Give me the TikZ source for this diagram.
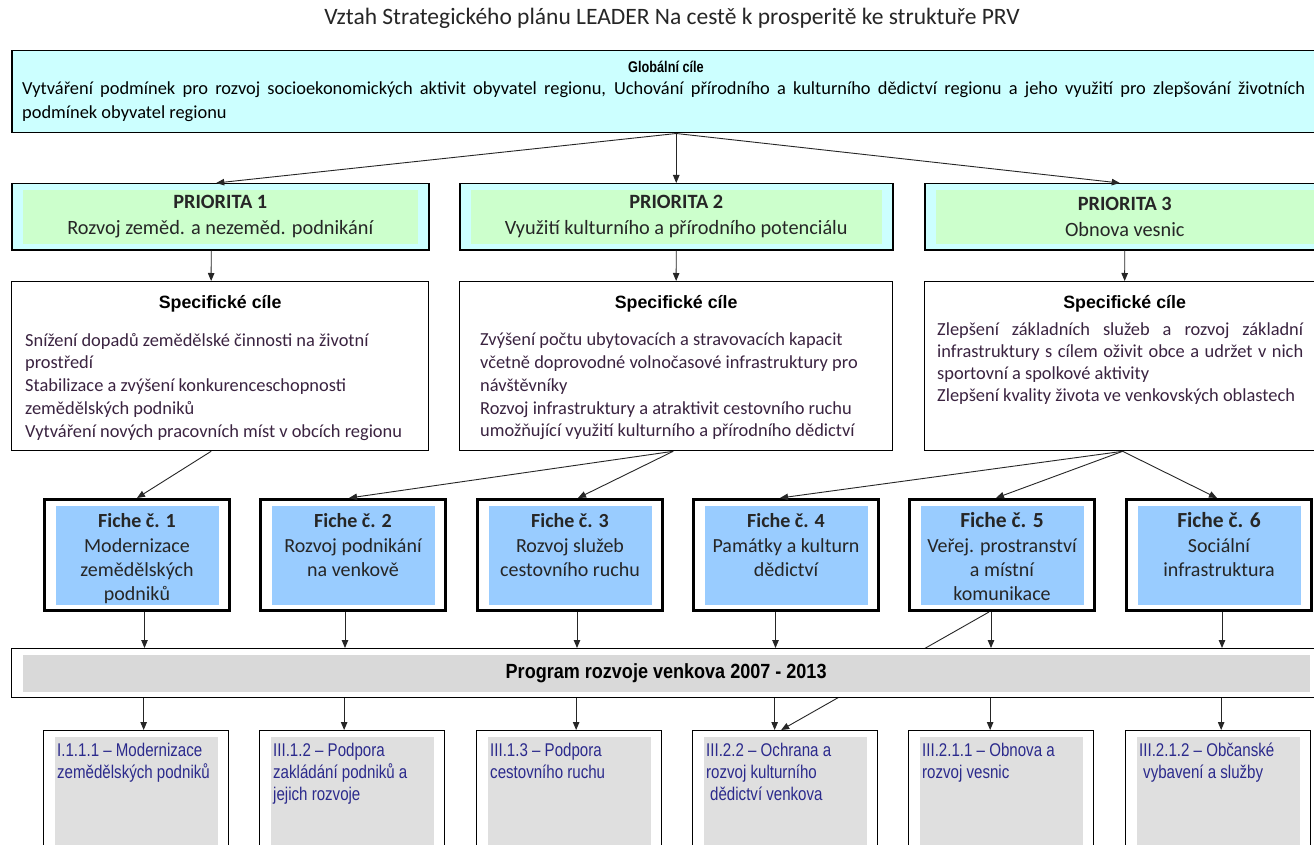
\documentclass[tikz,border=0pt]{standalone}
\usepackage{fontspec}
\setmainfont{Carlito}
\newfontfamily\arialfont{Liberation Sans}
\newfontfamily\narrowfont[FakeStretch=0.82]{Liberation Sans}
\newfontfamily\prgfont[FakeStretch=0.88]{Liberation Sans}
\usetikzlibrary{arrows.meta, positioning}

\definecolor{globcyan}{HTML}{CCFFFF}
\definecolor{priogreen}{HTML}{CCFFCC}
\definecolor{ficheblue}{HTML}{99CCFF}
\definecolor{prggray}{HTML}{D9D9D9}
\definecolor{opgray}{HTML}{DFDFDF}
\definecolor{goaltext}{HTML}{3A2340}
\definecolor{opblue}{HTML}{2B2A8C}

\begin{document}
\begin{tikzpicture}[x=1pt, y=-1pt,
  conn/.style={-{Triangle[length=8pt,width=6.5pt]}, line width=0.9pt, black!85},
  innerfill/.style={path picture={\fill[#1] ([shift={(11pt,-6pt)}]path picture bounding box.north west) rectangle ([shift={(-11pt,6pt)}]path picture bounding box.south east);}},
  globbox/.style={draw, line width=1.5pt, fill=globcyan, anchor=north west, minimum width=1309pt, minimum height=82pt, inner sep=0pt},
  priobox/.style={draw, line width=1.5pt, fill=globcyan, innerfill=priogreen, anchor=north west, minimum height=66pt, inner sep=0pt, align=center, text=black!85, font=\fontsize{20.3}{26}\selectfont},
  specbox/.style={draw, line width=1.3pt, fill=white, anchor=north west, minimum height=169pt, inner sep=0pt},
  spechead/.style={font=\arialfont\bfseries\fontsize{17.8}{21}\selectfont, inner sep=0pt},
  spectext/.style={font=\fontsize{18.4}{22.75}\selectfont, text=goaltext, inner sep=0pt, anchor=north west, align=left},
  fiche/.style={draw, line width=3pt, fill=white, innerfill=ficheblue, anchor=north west, minimum width=185pt, minimum height=111pt, inner sep=0pt},
  fichetext/.style={font=\fontsize{20}{24.3}\selectfont, text=black!85, inner sep=0pt, align=center},
  prgbox/.style={draw, line width=1.3pt, fill=white, innerfill=prggray, anchor=north west, minimum width=1309pt, minimum height=49pt, inner sep=0pt, font=\prgfont\bfseries\fontsize{20.5}{24}\selectfont},
  opbox/.style={draw, line width=1.3pt, fill=white, innerfill=opgray, anchor=north west, minimum width=185pt, minimum height=140pt, inner sep=0pt},
  optext/.style={font=\narrowfont\fontsize{18.4}{22}\selectfont, text=opblue, inner sep=0pt, anchor=north west, align=left}
]
\useasboundingbox (0,0) rectangle (1314,845);
\clip (0,0) rectangle (1314,845);
\fill[white] (0,0) rectangle (1314,845);

\node[font=\fontsize{23.5}{28}\selectfont, text=black!85] (title) at (672,18) {Vztah Strategického plánu LEADER Na cestě k prosperitě ke struktuře PRV};

% global goals
\node[globbox] (glob) at (11,50) {};
\node[font=\narrowfont\bfseries\fontsize{15.5}{18}\selectfont, inner sep=0pt] (globh) at (666,67) {Globální cíle};
\node[font=\fontsize{18.4}{24}\selectfont, text width=1283pt, align=justify, inner sep=0pt, anchor=north west] (globt) at (22,82) {Vytváření podmínek pro rozvoj socioekonomických aktivit obyvatel regionu, Uchování přírodního a kulturního dědictví regionu a jeho využití pro zlepšování životních\linebreak podmínek obyvatel regionu};

% priorities
\node[priobox, minimum width=417pt] (p1) at (11,183) {\textbf{PRIORITA 1}\\Rozvoj zeměd. a nezeměd. podnikání};
\node[priobox, minimum width=433pt] (p2) at (459,183) {\textbf{PRIORITA 2}\\Využití kulturního a přírodního potenciálu};
\node[priobox, minimum width=400pt] (p3) at (924,183) {\textbf{PRIORITA 3}\\Obnova vesnic};

% specific goals
\node[specbox, minimum width=417pt] (s1) at (11,281) {};
\node[specbox, minimum width=433pt] (s2) at (459,281) {};
\node[specbox, minimum width=400pt] (s3) at (924,281) {};
\node[spechead, below=14pt of s1.north] (s1h) {Specifické cíle};
\node[spechead, below=14pt of s2.north] (s2h) {Specifické cíle};
\node[spechead, below=14pt of s3.north] (s3h) {Specifické cíle};
\node[spectext] (s1t) at (25,333) {Snížení dopadů zemědělské činnosti na životní\\prostředí\\Stabilizace a zvýšení konkurenceschopnosti\\zemědělských podniků\\Vytváření nových pracovních míst v obcích regionu};
\node[spectext] (s2t) at (480,333) {Zvýšení počtu ubytovacích a stravovacích kapacit\\včetně doprovodné volnočasové infrastruktury pro\\návštěvníky\\Rozvoj infrastruktury a atraktivit cestovního ruchu\\umožňující využití kulturního a přírodního dědictví};
\node[spectext, text width=366pt, align=justify, font=\fontsize{18.4}{22}\selectfont] (s3t) at (937,323) {Zlepšení základních služeb a rozvoj základní\linebreak infrastruktury s cílem oživit obce a udržet v nich\linebreak sportovní a spolkové aktivity\\Zlepšení kvality života ve venkovských oblastech};

% fiches
\node[fiche] (f1) at (43,498) {};
\node[fiche] (f2) at (259,498) {};
\node[fiche] (f3) at (476,498) {};
\node[fiche] (f4) at (692,498) {};
\node[fiche] (f5) at (908,498) {};
\node[fiche] (f6) at (1125,498) {};
\node[fichetext, below=15.5pt of f1.north] (f1t) {\textbf{Fiche č. 1}\\Modernizace\\zemědělských\\podniků};
\node[fichetext, below=15.5pt of f2.north] (f2t) {\textbf{Fiche č. 2}\\Rozvoj podnikání\\na venkově};
\node[fichetext, below=15.5pt of f3.north] (f3t) {\textbf{Fiche č. 3}\\Rozvoj služeb\\cestovního ruchu};
\node[fichetext, below=15.5pt of f4.north] (f4t) {\textbf{Fiche č. 4}\\Památky a kulturn\\dědictví};
\node[fichetext, below=14.5pt of f5.north] (f5t) {\textbf{\fontsize{21.5}{24.3}\selectfont Fiche č. 5}\\Veřej. prostranství\\a místní\\komunikace};
\node[fichetext, below=14.5pt of f6.north] (f6t) {\textbf{\fontsize{21.5}{24.3}\selectfont Fiche č. 6}\\Sociální\\infrastruktura};

% measures of the programme
\node[opbox] (b1) at (43,730) {};
\node[opbox] (b2) at (259,730) {};
\node[opbox] (b3) at (476,730) {};
\node[opbox] (b4) at (692,730) {};
\node[opbox] (b5) at (908,730) {};
\node[opbox] (b6) at (1125,730) {};
\node[optext] (b1t) at ([shift={(14pt,-13pt)}]b1.north west) {I.1.1.1 – Modernizace\\zemědělských podniků};
\node[optext] (b2t) at ([shift={(14pt,-13pt)}]b2.north west) {III.1.2 – Podpora\\zakládání podniků a\\jejich rozvoje};
\node[optext] (b3t) at ([shift={(14pt,-13pt)}]b3.north west) {III.1.3 – Podpora\\cestovního ruchu};
\node[optext] (b4t) at ([shift={(14pt,-13pt)}]b4.north west) {III.2.2 – Ochrana a\\rozvoj kulturního\\\hspace*{4pt}dědictví venkova};
\node[optext] (b5t) at ([shift={(14pt,-13pt)}]b5.north west) {III.2.1.1 – Obnova a\\rozvoj vesnic};
\node[optext] (b6t) at ([shift={(14pt,-13pt)}]b6.north west) {III.2.1.2 – Občanské\\\hspace*{4pt}vybavení a služby};

% this one runs under the programme box
\draw[conn] ([xshift=-13pt]f5.south) -- ([xshift=-4pt]b4.north);
\node[prgbox] (prg) at (11,648) {Program rozvoje venkova 2007 - 2013};

% connectors
\coordinate (gs) at (glob.south -| p2.north);
\draw[conn] (gs) -- ([xshift=-4pt]p1.north);
\draw[conn] (gs) -- (p2.north);
\draw[conn] (gs) -- ([xshift=-5pt]p3.north);
\draw[conn] ([xshift=-9pt]p1.south) -- ([xshift=-9pt]s1.north);
\draw[conn] (p2.south) -- (s2.north);
\draw[conn] (p3.south) -- (s3.north);
\coordinate (s1b) at ([xshift=-9pt]s1.south);
\coordinate (s2b) at ([xshift=-3pt]s2.south);
\coordinate (s3b) at ([xshift=-2pt]s3.south);
\draw[conn] (s1b) -- (f1.north);
\draw[conn] (s2b) -- ([xshift=-4pt]f2.north);
\draw[conn] (s2b) -- ([xshift=8pt]f3.north);
\draw[conn] (s3b) -- ([xshift=-6pt]f4.north);
\draw[conn] (s3b) -- ([xshift=-6pt]f5.north);
\draw[conn] (s3b) -- ([xshift=-2pt]f6.north);
\foreach \n/\dx in {1/7.5, 2/-8, 3/7, 4/-10.5, 5/-11, 6/3} {
  \coordinate (fa\n) at ([xshift=\dx pt]f\n.south);
  \coordinate (ba\n) at ([xshift=\dx pt]b\n.north);
  \draw[conn] (fa\n) -- (fa\n |- prg.north);
  \draw[conn] (ba\n |- prg.south) -- (ba\n);
}
\end{tikzpicture}
\end{document}
